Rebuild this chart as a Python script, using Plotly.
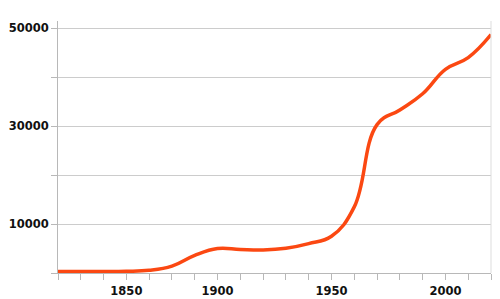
import plotly.graph_objects as go

years = ["1820", "1830", "1840", "1850", "1864", "1875", "1890", "1900", "1910", "1920",
         "1930", "1940", "1950", "1960", "1970", "1980", "1990", "2000", "2010", "2020"]
population = [300, 300, 300, 350, 550, 1400, 3600, 5000, 4800, 4700,
              5050, 6000, 7500, 13500, 30300, 33300, 36600, 41600, 44000, 48700]
labeled_years = ["1850", "1900", "1950", "2000"]
y_ticks = [0, 10000, 20000, 30000, 40000, 50000]
y_labels = ["", "10000", "", "30000", "", "50000"]

fig = go.Figure()
fig.add_trace(go.Scatter(
    x=years, y=population, mode="lines",
    line=dict(color="#fb4812", width=3.5, shape="spline", smoothing=1.2),
    hoverinfo="skip", showlegend=False,
))

tick_font = dict(family="DejaVu Sans", size=11.5, color="#111111", weight="bold")

fig.update_layout(
    width=500, height=299,
    margin=dict(l=58, r=9, t=21, b=26, autoexpand=False),
    paper_bgcolor="white", plot_bgcolor="white",
    xaxis=dict(
        type="category", categoryorder="array", categoryarray=years,
        range=[0, len(years) - 1],
        tickmode="array", tickvals=years,
        ticktext=[y if y in labeled_years else "" for y in years],
        ticks="outside", ticklen=6, tickcolor="#b8b8b8", tickwidth=1,
        showline=True, linecolor="#b8b8b8", linewidth=1,
        showgrid=False, zeroline=False, mirror=False,
        tickfont=tick_font, ticklabelstandoff=1, automargin=False,
    ),
    yaxis=dict(
        range=[0, 51470],
        tickmode="array", tickvals=y_ticks, ticktext=y_labels,
        ticks="outside", ticklen=6, tickcolor="#b8b8b8", tickwidth=1,
        showline=True, linecolor="#b8b8b8", linewidth=1,
        showgrid=True, gridcolor="#cccccc", gridwidth=1,
        zeroline=False, automargin=False,
        tickfont=tick_font,
    ),
    shapes=[dict(type="line", xref="paper", yref="paper", x0=1, x1=1, y0=0, y1=1,
                 line=dict(color="#dddddd", width=1))],
)

fig.write_html("out.html")
